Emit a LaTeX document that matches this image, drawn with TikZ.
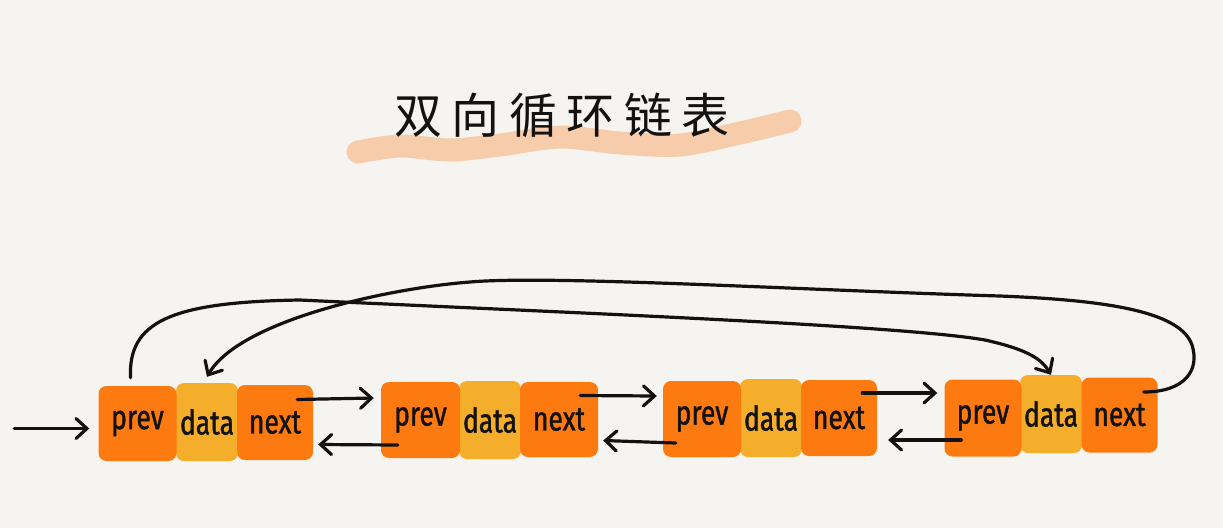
\documentclass[tikz,border=0pt]{standalone}
\usepackage{fontspec}
\setmainfont{Fira Sans}
\newfontfamily\cjkttl[LetterSpace=20]{Noto Sans CJK SC}
\newfontfamily\hand[FakeStretch=0.78,FakeBold=1.2]{Fira Sans}
\usetikzlibrary{arrows.meta,calc}
\definecolor{bg}{HTML}{F6F4F0}
\definecolor{org}{HTML}{FD7A10}
\definecolor{amb}{HTML}{F4AE2C}
\definecolor{peach}{HTML}{F6C6A0}
\definecolor{ink}{HTML}{141210}
\begin{document}
\begin{tikzpicture}[x=1pt,y=-1pt,
  cell/.style={rounded corners=8pt, inner sep=0pt, font=\hand\fontsize{34}{34}\selectfont, text=ink},
  pn/.style={cell, fill=org},
  dt/.style={cell, fill=amb},
  ptr/.style={line width=3.2pt, draw=ink, line cap=round, -{Straight Barb[length=11pt,width=20pt,line cap=round]}},
  curve/.style={ptr}]
\fill[bg] (0,0) rectangle (1223,528);
\useasboundingbox (0,0) rectangle (1223,528);
% brush stroke
\draw[peach, line width=23pt, line cap=round, opacity=0.85]
  plot[smooth] coordinates {(358,152) (400,146) (450,150) (500,145) (560,137) (620,143) (680,145) (740,133) (790,121)};
\node[font=\cjkttl\fontsize{48}{48}\selectfont, text=ink] (title) at (562,115) {双向循环链表};
% node 1
\node[dt, minimum width=62pt, minimum height=78pt] (d1) at (207,422) {data};
\node[pn, minimum width=78pt, minimum height=75pt] (p1) at (137.5,423.5) {prev};
\node[pn, minimum width=76pt, minimum height=75pt] (x1) at (275,422.5) {next};
% node 2
\node[dt, minimum width=62pt, minimum height=78pt] (d2) at (490,420) {data};
\node[pn, minimum width=79pt, minimum height=76pt] (p2) at (420.5,420) {prev};
\node[pn, minimum width=78pt, minimum height=75pt] (x2) at (559,419.5) {next};
% node 3
\node[dt, minimum width=62pt, minimum height=78pt] (d3) at (771,418) {data};
\node[pn, minimum width=78pt, minimum height=76pt] (p3) at (702,419) {prev};
\node[pn, minimum width=76pt, minimum height=76pt] (x3) at (839,418) {next};
% node 4
\node[dt, minimum width=62pt, minimum height=78pt] (d4) at (1051,414) {data};
\node[pn, minimum width=77pt, minimum height=77pt] (p4) at (983,418) {prev};
\node[pn, minimum width=76pt, minimum height=75pt] (x4) at (1119.5,415) {next};
% coordinates
\coordinate (e0) at ($(p1.west)+(-84,5)$);
\coordinate (c1s) at ($(p1.north)+(-7,-8)$);
\coordinate (c2s) at ($(x4.east)+(-14,-23)$);
% entry
\draw[ptr] (e0) -- ($(p1.west)+(-9,5)$);
% forward
\draw[ptr] ($(x1.east)+(-16,-23)$) -- ($(p2.west)+(-7,-22)$);
\draw[ptr] ($(x2.east)+(-18,-24)$) -- ($(p3.west)+(-6,-23)$);
\draw[ptr] ($(x3.east)+(-15,-25)$) -- ($(p4.west)+(-7,-25)$);
% backward
\draw[ptr] ($(p2.west)+(17,25)$) -- ($(x1.east)+(5,22)$);
\draw[ptr] ($(p3.west)+(13,24)$) -- ($(x2.east)+(5,21)$);
\draw[ptr] ($(p4.west)+(17,22)$) -- ($(x3.east)+(11,22)$);
% long curves
\draw[curve] (c1s) .. controls (128,322) and (170,302) .. (300,300)
  .. controls (550,312) and (900,325) .. (985,340)
  .. controls (1030,350) and (1042,360) .. (d4.north);
\draw[curve] (c2s) .. controls (1185,392) and (1200,370) .. (1192,345)
  .. controls (1180,310) and (1100,300) .. (1000,296)
  .. controls (800,290) and (550,275) .. (470,282)
  .. controls (390,288) and (240,320) .. ($(d1.north)+(0,-6)$);
\end{tikzpicture}
\end{document}
